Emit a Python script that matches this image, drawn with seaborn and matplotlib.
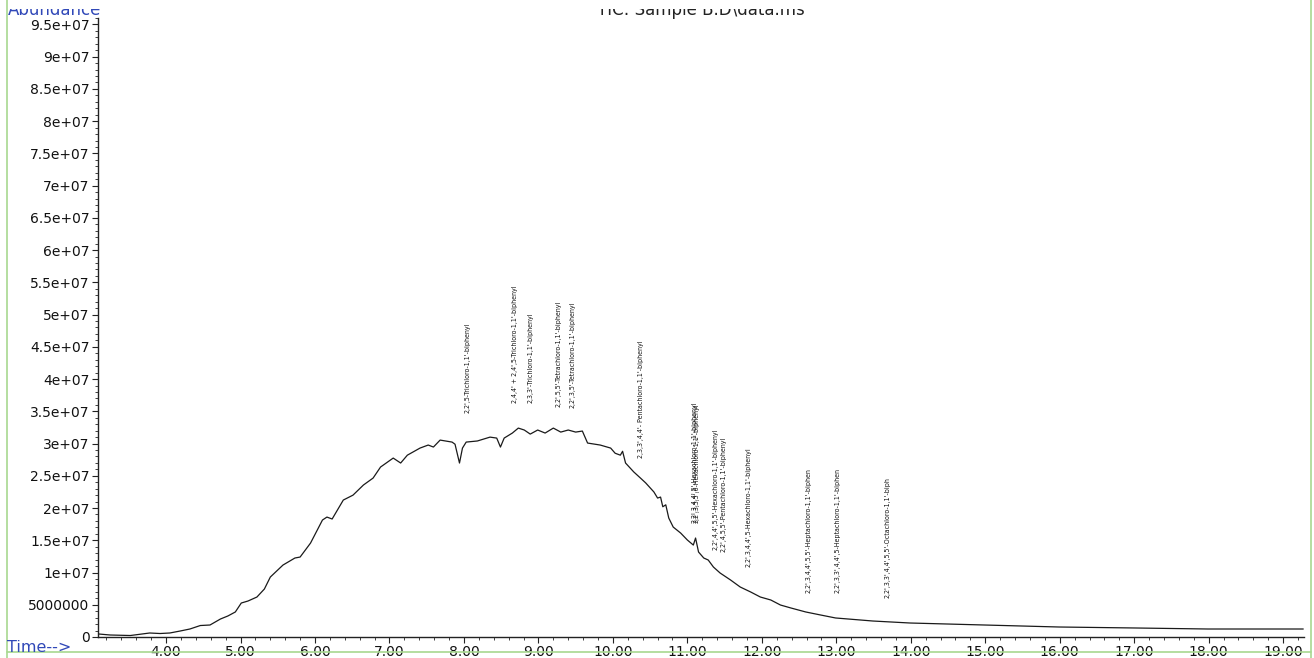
import numpy as np
import pandas as pd
import matplotlib
matplotlib.use("Agg")
import matplotlib.pyplot as plt
from matplotlib.lines import Line2D
from matplotlib.ticker import MultipleLocator, FixedLocator
from matplotlib import font_manager
from matplotlib.font_manager import FontProperties
from matplotlib.transforms import Bbox, TransformedBbox
import seaborn as sns

# ---------------- data ----------------
time_min = [3.09, 3.25, 3.52, 3.78, 3.92, 4.05, 4.19, 4.32, 4.46, 4.59, 4.73, 4.83, 4.93,
            5.01, 5.10, 5.22, 5.32, 5.40, 5.57, 5.73, 5.80, 5.94, 6.10, 6.16, 6.23, 6.38,
            6.51, 6.65, 6.78, 6.88, 7.05, 7.15, 7.24, 7.41, 7.52, 7.59, 7.68, 7.84, 7.88,
            7.94, 7.98, 8.03, 8.18, 8.35, 8.44, 8.49, 8.54, 8.65, 8.73, 8.81, 8.89, 8.99,
            9.09, 9.20, 9.30, 9.40, 9.50, 9.59, 9.66, 9.83, 9.97, 10.03, 10.10, 10.13,
            10.17, 10.28, 10.37, 10.44, 10.55, 10.60, 10.64, 10.67, 10.71, 10.75, 10.81,
            10.91, 11.00, 11.08, 11.11, 11.15, 11.22, 11.28, 11.35, 11.44, 11.58, 11.71,
            11.85, 11.98, 12.12, 12.25, 12.39, 12.59, 12.79, 12.99, 13.49, 13.99, 14.99,
            15.99, 17.00, 17.99, 19.27]
abundance_M = [0.47, 0.31, 0.23, 0.62, 0.54, 0.62, 0.93, 1.24, 1.78, 1.86, 2.79, 3.26, 3.88,
               5.27, 5.58, 6.20, 7.44, 9.30, 11.16, 12.25, 12.40, 14.57, 18.14, 18.60, 18.30,
               21.24, 22.00, 23.57, 24.65, 26.36, 27.75, 26.98, 28.20, 29.30, 29.77, 29.46,
               30.54, 30.23, 29.90, 26.98, 29.30, 30.23, 30.40, 31.00, 30.85, 29.46, 30.85,
               31.63, 32.40, 32.10, 31.47, 32.10, 31.63, 32.40, 31.78, 32.10, 31.78, 31.94,
               30.08, 29.77, 29.30, 28.50, 28.20, 28.80, 26.98, 25.60, 24.65, 23.90, 22.50,
               21.55, 21.70, 20.20, 20.50, 18.45, 17.05, 16.12, 15.04, 14.26, 15.35, 13.18,
               12.25, 11.94, 10.85, 9.92, 8.84, 7.75, 6.98, 6.20, 5.74, 4.96, 4.50, 3.88,
               3.41, 2.95, 2.48, 2.17, 1.86, 1.55, 1.40, 1.24, 1.24]

peak_labels = [
    "2,2',5-Trichloro-1,1'-biphenyl",
    "2,4,4' + 2,4',5-Trichloro-1,1'-biphenyl",
    "2,3,3'-Trichloro-1,1'-biphenyl",
    "2,2',5,5'-Tetrachloro-1,1'-biphenyl",
    "2,2',3,5'-Tetrachloro-1,1'-biphenyl",
    "2,3,3',4,4'- Pentachloro-1,1'-biphenyl",
    "2,2',3,4,4',5'-Hexachloro-1,1'-biphenyl",
    "2,2',3,5,5',6-Hexachloro-1,1'-biphenyl",
    "2,2',4,4',5,5'-Hexachloro-1,1'-biphenyl",
    "2,2',4,5,5'-Pentachloro-1,1'-biphenyl",
    "2,2',3,4,4',5-Hexachloro-1,1'-biphenyl",
    "2,2',3,4,4',5,5'-Heptachloro-1,1'-biphen",
    "2,2',3,3',4,4',5-Heptachloro-1,1'-biphen",
    "2,2',3,3',4,4',5,5'-Octachloro-1,1'-biph",
]
peak_time = [8.05, 8.68, 8.89, 9.27, 9.46, 10.38, 11.10, 11.12, 11.38, 11.49, 11.82,
             12.63, 13.02, 13.69]
label_base_M = [34.7, 36.3, 36.3, 35.7, 35.5, 27.75, 17.67, 17.67, 13.5, 13.2, 10.85,
                6.82, 6.82, 6.05]

x_ticks = [4, 5, 6, 7, 8, 9, 10, 11, 12, 13, 14, 15, 16, 17, 18, 19]
x_tick_labels = ["4.00", "5.00", "6.00", "7.00", "8.00", "9.00", "10.00", "11.00", "12.00",
                 "13.00", "14.00", "15.00", "16.00", "17.00", "18.00", "19.00"]
y_ticks = [0, 5e6, 1e7, 1.5e7, 2e7, 2.5e7, 3e7, 3.5e7, 4e7, 4.5e7, 5e7, 5.5e7, 6e7,
           6.5e7, 7e7, 7.5e7, 8e7, 8.5e7, 9e7, 9.5e7]
y_tick_labels = ["0", "5000000", "1e+07", "1.5e+07", "2e+07", "2.5e+07", "3e+07", "3.5e+07",
                 "4e+07", "4.5e+07", "5e+07", "5.5e+07", "6e+07", "6.5e+07", "7e+07",
                 "7.5e+07", "8e+07", "8.5e+07", "9e+07", "9.5e+07"]

# ---------------- style ----------------
sns.set_theme(style="white")
plt.rcParams['font.family'] = ['DejaVu Sans']


def find_narrow_font():
    best = None
    for f in font_manager.fontManager.ttflist:
        n = f.name
        st = str(f.stretch).lower()
        w = str(f.weight).lower()
        if f.style != 'normal' or w not in ('400', 'normal', 'regular', 'book'):
            continue
        is_narrow = ('narrow' in n.lower() or 'condensed' in n.lower()
                     or 'condensed' in st or st in ('300', '400', '200', '100'))
        if not is_narrow:
            continue
        if 'Liberation Sans Narrow' in n:
            score = 3
        elif 'Sans' in n or 'Roboto' in n:
            score = 2
        else:
            score = 1
        if best is None or score > best[0]:
            best = (score, f.fname)
    return best[1] if best else None


narrow_file = find_narrow_font()
if narrow_file:
    ann_fp = FontProperties(fname=narrow_file, size=5.0)
else:
    ann_fp = FontProperties(family='Liberation Sans', size=4.6)

W, H = 1314, 658
fig = plt.figure(figsize=(W / 100, H / 100), dpi=100)
ax = fig.add_axes([98 / W, 21 / H, (1304 - 98) / W, (637 - 18) / H])

df = pd.DataFrame({"t": time_min, "a": np.array(abundance_M) * 1e6})
sns.lineplot(data=df, x="t", y="a", ax=ax, color="#1a1a1a", linewidth=0.9)

ax.set_xlim(3.086, 19.28)
ax.set_ylim(0, 9.6e7)
ax.set_xlabel("")
ax.set_ylabel("")
for s in ["top", "right"]:
    ax.spines[s].set_visible(False)
for s in ["left", "bottom"]:
    ax.spines[s].set_color("#222222")
    ax.spines[s].set_linewidth(1.0)

ax.xaxis.set_major_locator(FixedLocator(x_ticks))
ax.set_xticklabels(x_tick_labels)
ax.xaxis.set_minor_locator(MultipleLocator(0.2))
ax.yaxis.set_major_locator(FixedLocator(y_ticks))
ax.set_yticklabels(y_tick_labels)
ax.yaxis.set_minor_locator(MultipleLocator(1e6))
ax.tick_params(axis="both", which="major", direction="out", length=4, width=0.8,
               color="#222222", labelsize=10, labelcolor="#111111", pad=2,
               bottom=True, left=True)
ax.tick_params(axis="x", which="major", pad=1.5)
ax.tick_params(axis="both", which="minor", direction="out", length=2, width=0.6,
               color="#222222", bottom=True, left=True)

for lab, t, b in zip(peak_labels, peak_time, label_base_M):
    ax.text(t, b * 1e6, lab, rotation=90, ha="center", va="bottom",
            fontproperties=ann_fp, color="#111111")

# frame texts (top ones are cut by the window edge, as in the screenshot)
clip = TransformedBbox(Bbox([[0, 0], [1, 1 - 8.5 / H]]), fig.transFigure)
t1 = fig.text(701 / W, 1 - 15 / H, "TIC: Sample B.D\\data.ms", ha="center", va="baseline",
              fontsize=12, color="#222222")
t2 = fig.text(8 / W, 1 - 15 / H, "Abundance", ha="left", va="baseline", fontsize=12,
              color="#3048b8")
for t in (t1, t2):
    t.set_clip_box(clip)
    t.set_clip_on(True)
fig.text(7 / W, 1 - 648 / H, "Time-->", ha="left", va="center", fontsize=11.5,
         color="#3048b8")

# green window border
g = "#a8d890"
fig.add_artist(Line2D([7 / W, 7 / W], [0, 1], transform=fig.transFigure, color=g, lw=1.2))
fig.add_artist(Line2D([1311 / W, 1311 / W], [0, 1], transform=fig.transFigure, color=g, lw=1.2))
fig.add_artist(Line2D([7 / W, 1311 / W], [1 - 652 / H, 1 - 652 / H], transform=fig.transFigure,
                      color=g, lw=1.2))

fig.savefig("out.png", dpi=100)
